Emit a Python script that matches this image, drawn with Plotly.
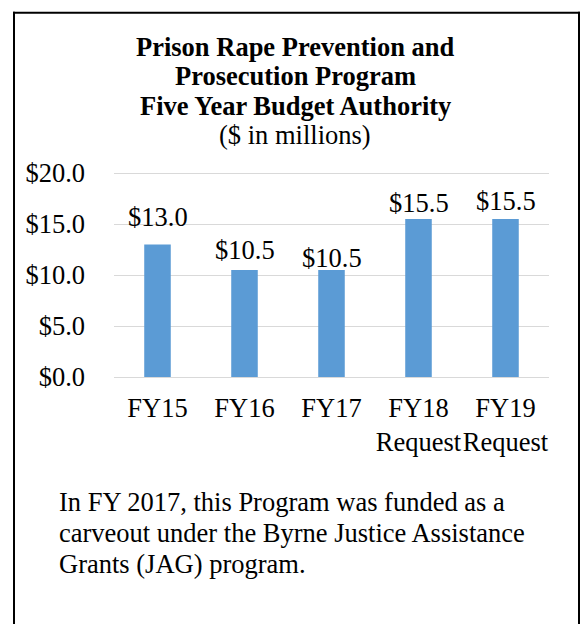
import plotly.graph_objects as go

categories = ["FY15", "FY16", "FY17", "FY18<br>Request", "FY19<br>Request"]
values = [13.0, 10.5, 10.5, 15.5, 15.5]
value_labels = ["$13.0", "$10.5", "$10.5", "$15.5", "$15.5"]
y_ticks = [0, 5, 10, 15, 20]
y_tick_labels = ["$0.0", "$5.0", "$10.0", "$15.0", "$20.0"]
label_offsets = [27, 20, 12, 16, 18]

title_lines = ["<b>Prison Rape Prevention and</b>", "<b>Prosecution Program</b>",
               "<b>Five Year Budget Authority</b>", "($ in millions)"]
note_lines = ["In FY 2017, this Program was funded as a",
              "carveout under the Byrne Justice Assistance",
              "Grants (JAG) program."]

FONT = "Liberation Serif, Times New Roman, serif"
FS = 26.5

fig = go.Figure()
fig.add_trace(go.Bar(
    x=categories, y=values,
    marker=dict(color="#5B9BD5", line=dict(width=0)),
    hoverinfo="skip",
))

for c, v, t, off in zip(categories, values, value_labels, label_offsets):
    fig.add_annotation(x=c, y=v, text=t, showarrow=False, yanchor="middle",
                       yshift=off, font=dict(family=FONT, size=FS, color="#000000"))

# plot area geometry in pixels
L, R, T, B = 114, 33, 169.6, 247
W, H = 582, 624
pw, ph = W - L - R, H - T - B

def px_x(px):
    return (px - L) / pw

def px_y(py):
    return (H - B - py) / ph

# border box (no bottom edge)
border = dict(color="#000000", width=2)
fig.add_shape(type="line", xref="paper", yref="paper", x0=px_x(14), x1=px_x(14), y0=px_y(11), y1=px_y(640), line=border)
fig.add_shape(type="line", xref="paper", yref="paper", x0=px_x(579), x1=px_x(579), y0=px_y(11), y1=px_y(640), line=border)
fig.add_shape(type="line", xref="paper", yref="paper", x0=px_x(13), x1=px_x(580), y0=px_y(12), y1=px_y(12), line=border)

for i, line in enumerate(title_lines):
    fig.add_annotation(xref="paper", yref="paper", x=px_x(295), y=px_y(46 + 29.5 * i),
                       xanchor="center", yanchor="middle", showarrow=False, text=line,
                       font=dict(family=FONT, size=FS, color="#000000"))

for i, line in enumerate(note_lines):
    fig.add_annotation(xref="paper", yref="paper", x=px_x(57), y=px_y(502 + 31 * i),
                       xanchor="left", yanchor="middle", showarrow=False, text=line,
                       font=dict(family=FONT, size=FS, color="#000000"))

fig.update_layout(
    width=W, height=H,
    margin=dict(l=L, r=R, t=T, b=B),
    paper_bgcolor="white", plot_bgcolor="white",
    showlegend=False,
    bargap=0.695,
    font=dict(family=FONT, size=FS, color="#000000"),
    xaxis=dict(showline=False, showgrid=False, ticks="", tickangle=0,
               tickfont=dict(family=FONT, size=FS),
               ticklabelstandoff=12, fixedrange=True),
    yaxis=dict(range=[0, 20.3], tickvals=y_ticks, ticktext=y_tick_labels,
               showgrid=True, gridcolor="#D9D9D9", gridwidth=1,
               zeroline=True, zerolinecolor="#D9D9D9", zerolinewidth=1,
               showline=False, ticks="", ticklabelstandoff=28,
               tickfont=dict(family=FONT, size=FS), fixedrange=True),
)

fig.write_html("out.html", config={"displayModeBar": False},
               post_script="document.body.style.margin='0px';")
